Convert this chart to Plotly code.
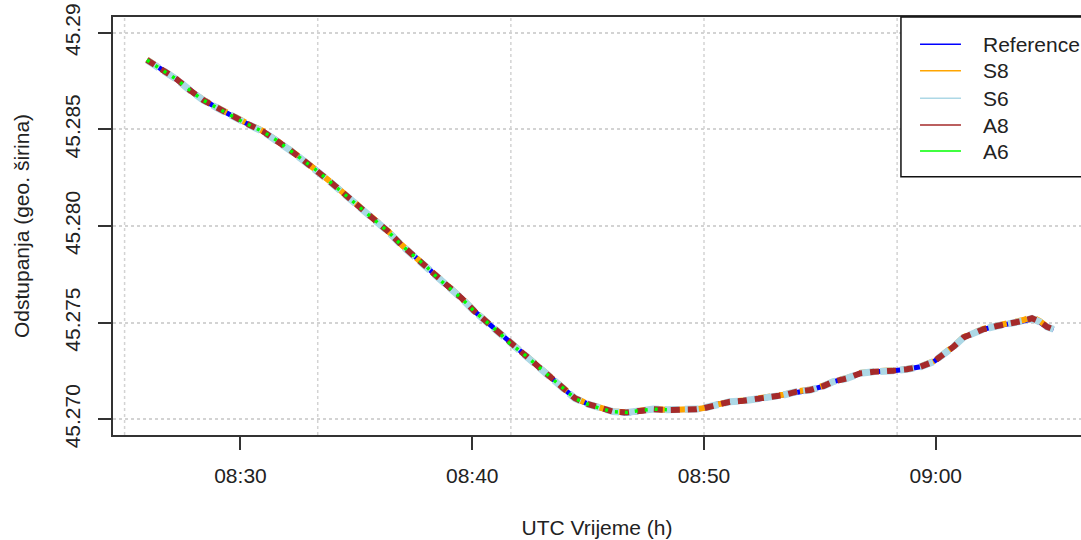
import plotly.graph_objects as go

DAY = "2000-01-01 "

TIMES = [
    "08:25:58", "08:26:40", "08:27:15", "08:27:49", "08:28:23", "08:29:02", "08:29:28", "08:29:58", "08:30:24", "08:30:59",
    "08:31:33", "08:32:08", "08:32:42", "08:33:17", "08:33:52", "08:34:17", "08:34:48", "08:35:22", "08:35:53", "08:36:23",
    "08:36:57", "08:37:32", "08:38:02", "08:38:32", "08:39:02", "08:39:33", "08:40:07", "08:40:42", "08:41:12", "08:41:38",
    "08:42:12", "08:42:47", "08:43:21", "08:43:56", "08:44:26", "08:45:00", "08:45:31", "08:46:05", "08:46:40", "08:47:14",
    "08:47:49", "08:48:24", "08:48:58", "08:49:41", "08:49:58", "08:50:33", "08:51:07", "08:51:42", "08:52:17", "08:52:51",
    "08:53:26", "08:54:00", "08:54:35", "08:55:09", "08:55:35", "08:56:10", "08:56:44", "08:57:19", "08:57:53", "08:58:10",
    "08:58:45", "08:59:20", "08:59:54", "09:00:20", "09:00:46", "09:01:12", "09:01:38", "09:02:03", "09:02:38", "09:03:13",
    "09:03:47", "09:04:09", "09:04:30", "09:04:48", "09:05:05",
]

REF_LAT = [
    45.28860, 45.28808, 45.28760, 45.28704, 45.28653, 45.28610, 45.28580, 45.28549, 45.28523, 45.28489,
    45.28446, 45.28394, 45.28342, 45.28290, 45.28230, 45.28187, 45.28135, 45.28075, 45.28023, 45.27971,
    45.27902, 45.27842, 45.27790, 45.27730, 45.27678, 45.27626, 45.27557, 45.27497, 45.27445, 45.27393,
    45.27342, 45.27281, 45.27221, 45.27160, 45.27109, 45.27079, 45.27057, 45.27039, 45.27032, 45.27045,
    45.27052, 45.27048, 45.27048, 45.27052, 45.27057, 45.27078, 45.27091, 45.27096, 45.27104, 45.27114,
    45.27126, 45.27143, 45.27152, 45.27172, 45.27195, 45.27212, 45.27238, 45.27246, 45.27246, 45.27252,
    45.27259, 45.27272, 45.27298, 45.27333, 45.27376, 45.27424, 45.27445, 45.27466, 45.27483, 45.27493,
    45.27508, 45.27520, 45.27502, 45.27477, 45.27466,
]

S8_LAT = [
    45.28862, 45.28810, 45.28758, 45.28702, 45.28655, 45.28612, 45.28582, 45.28551, 45.28525, 45.28491,
    45.28447, 45.28395, 45.28343, 45.28291, 45.28231, 45.28188, 45.28136, 45.28076, 45.28024, 45.27972,
    45.27903, 45.27843, 45.27791, 45.27731, 45.27679, 45.27627, 45.27558, 45.27498, 45.27446, 45.27394,
    45.27343, 45.27282, 45.27222, 45.27161, 45.27110, 45.27080, 45.27058, 45.27040, 45.27036, 45.27046,
    45.27053, 45.27049, 45.27049, 45.27053, 45.27058, 45.27079, 45.27092, 45.27097, 45.27105, 45.27116,
    45.27128, 45.27145, 45.27154, 45.27174, 45.27197, 45.27214, 45.27240, 45.27248, 45.27248, 45.27254,
    45.27261, 45.27274, 45.27300, 45.27335, 45.27378, 45.27426, 45.27447, 45.27468, 45.27485, 45.27496,
    45.27514, 45.27530, 45.27508, 45.27480, 45.27467,
]

S6_LAT = [
    45.28859, 45.28807, 45.28759, 45.28703, 45.28652, 45.28609, 45.28579, 45.28548, 45.28522, 45.28488,
    45.28445, 45.28393, 45.28341, 45.28289, 45.28229, 45.28186, 45.28134, 45.28074, 45.28022, 45.27970,
    45.27901, 45.27841, 45.27789, 45.27729, 45.27677, 45.27625, 45.27556, 45.27496, 45.27444, 45.27392,
    45.27341, 45.27280, 45.27220, 45.27159, 45.27108, 45.27078, 45.27056, 45.27040, 45.27036, 45.27046,
    45.27053, 45.27050, 45.27049, 45.27053, 45.27058, 45.27078, 45.27091, 45.27096, 45.27104, 45.27114,
    45.27126, 45.27143, 45.27152, 45.27172, 45.27195, 45.27212, 45.27238, 45.27246, 45.27246, 45.27252,
    45.27259, 45.27272, 45.27298, 45.27333, 45.27376, 45.27424, 45.27445, 45.27466, 45.27483, 45.27493,
    45.27510, 45.27522, 45.27504, 45.27478, 45.27466,
]

A8_LAT = [
    45.28860, 45.28808, 45.28760, 45.28704, 45.28653, 45.28610, 45.28580, 45.28549, 45.28523, 45.28489,
    45.28446, 45.28394, 45.28342, 45.28290, 45.28230, 45.28187, 45.28135, 45.28075, 45.28023, 45.27971,
    45.27902, 45.27842, 45.27790, 45.27730, 45.27678, 45.27626, 45.27557, 45.27497, 45.27445, 45.27393,
    45.27342, 45.27281, 45.27221, 45.27160, 45.27109, 45.27079, 45.27057, 45.27040, 45.27036, 45.27045,
    45.27052, 45.27048, 45.27048, 45.27052, 45.27057, 45.27078, 45.27091, 45.27096, 45.27104, 45.27114,
    45.27126, 45.27143, 45.27152, 45.27172, 45.27195, 45.27212, 45.27238, 45.27246, 45.27246, 45.27252,
    45.27259, 45.27272, 45.27298, 45.27333, 45.27376, 45.27424, 45.27445, 45.27466, 45.27483, 45.27493,
    45.27510, 45.27523, 45.27505, 45.27479, 45.27466,
]

A6_TIMES = TIMES[:42]
A6_LAT = [
    45.28859, 45.28807, 45.28759, 45.28703, 45.28652, 45.28609, 45.28579, 45.28548, 45.28522, 45.28488,
    45.28445, 45.28393, 45.28341, 45.28289, 45.28229, 45.28186, 45.28134, 45.28074, 45.28022, 45.27970,
    45.27901, 45.27841, 45.27789, 45.27729, 45.27677, 45.27625, 45.27556, 45.27496, 45.27444, 45.27392,
    45.27341, 45.27280, 45.27220, 45.27159, 45.27108, 45.27078, 45.27056, 45.27040, 45.27036, 45.27046,
    45.27053, 45.27050,
]

SERIES_NAMES = ["Reference", "S8", "S6", "A8", "A6"]
COLORS = ["#0000FF", "#FFA500", "#ADD8E6", "#A52A2A", "#00FF00"]

X_TICKS = ["08:30:00", "08:40:00", "08:50:00", "09:00:00"]
X_TICKTEXT = ["08:30", "08:40", "08:50", "09:00"]
X_GRID = ["08:25:00", "08:33:20", "08:41:40", "08:50:00", "08:58:20"]
Y_TICKS = [45.270, 45.275, 45.280, 45.285, 45.290]
Y_TICKTEXT = ["45.270", "45.275", "45.280", "45.285", "45.29"]
X_RANGE = ["08:24:30", "09:06:16"]
Y_RANGE = [45.26919, 45.29082]

FONT = "Liberation Sans, Arial, sans-serif"
TXT = "#222222"
AXC = "#333333"

def dt(ts):
    return [DAY + t for t in ts]

fig = go.Figure()
styles = [
    dict(width=5, dash="solid"),
    dict(width=6, dash="12px,9px"),
    dict(width=7, dash="14px,6px"),
    dict(width=6, dash="9px,8px"),
    dict(width=3.5, dash="3px,7px"),
]
data = [(TIMES, REF_LAT), (TIMES, S8_LAT), (TIMES, S6_LAT), (TIMES, A8_LAT), (A6_TIMES, A6_LAT)]
for name, col, st, (tx, ty) in zip(SERIES_NAMES, COLORS, styles, data):
    fig.add_trace(go.Scatter(x=dt(tx), y=ty, mode="lines", name=name,
                             line=dict(color=col, width=st["width"], dash=st["dash"]),
                             showlegend=False))

shapes = []
for g in X_GRID:
    shapes.append(dict(type="line", xref="x", yref="paper", x0=DAY + g, x1=DAY + g, y0=0, y1=1,
                       line=dict(color="#D3D3D3", width=1.5, dash="3px,3px"), layer="below"))

# legend box (manual, R-style)
lx0, lx1, ly0, ly1 = 0.814, 1.05, 0.618, 1.0
shapes.append(dict(type="rect", xref="paper", yref="paper", x0=lx0, x1=lx1, y0=ly0, y1=ly1,
                   line=dict(color="#111111", width=1.5), fillcolor="white", layer="above"))
rows = [0.9347, 0.8715, 0.8055, 0.7416, 0.6794]
annotations = []
for name, col, yy in zip(SERIES_NAMES, COLORS, rows):
    shapes.append(dict(type="line", xref="paper", yref="paper", x0=0.8337, x1=0.876, y0=yy, y1=yy,
                       line=dict(color=col, width=1.5), layer="above"))
    annotations.append(dict(text=name, xref="paper", yref="paper", x=0.8967, y=yy,
                            xanchor="left", yanchor="middle", showarrow=False,
                            font=dict(family=FONT, size=21, color=TXT)))

fig.update_layout(
    width=1081, height=540,
    margin=dict(l=113, r=0, t=17, b=105, autoexpand=False),
    plot_bgcolor="white", paper_bgcolor="white",
    showlegend=False,
    font=dict(family=FONT, size=21, color=TXT),
    shapes=shapes, annotations=annotations,
    xaxis=dict(
        type="date", range=dt(X_RANGE), automargin=False,
        tickvals=dt(X_TICKS), ticktext=X_TICKTEXT,
        ticks="outside", ticklen=13, tickwidth=1.5, tickcolor=AXC,
        showline=True, linecolor=AXC, linewidth=1.5, mirror=True,
        showgrid=False, zeroline=False,
        tickfont=dict(family=FONT, size=21, color=TXT),
        ticklabelstandoff=8,
        title=dict(text="UTC Vrijeme (h)", font=dict(family=FONT, size=21, color=TXT), standoff=34),
    ),
    yaxis=dict(
        range=Y_RANGE, tickvals=Y_TICKS, ticktext=Y_TICKTEXT, tickangle=-90, automargin=False,
        ticks="outside", ticklen=13, tickwidth=1.5, tickcolor=AXC,
        showline=True, linecolor=AXC, linewidth=1.5, mirror=False,
        showgrid=True, gridcolor="#D3D3D3", gridwidth=1.5, griddash="3px,3px",
        zeroline=False,
        tickfont=dict(family=FONT, size=21, color=TXT),
        ticklabelstandoff=10,
        title=dict(text="Odstupanja (geo. širina)", font=dict(family=FONT, size=21, color=TXT), standoff=25),
    ),
)

fig.write_html("out.html", config={"displayModeBar": False},
               post_script="document.body.style.margin='0px';document.body.style.overflow='hidden';")
